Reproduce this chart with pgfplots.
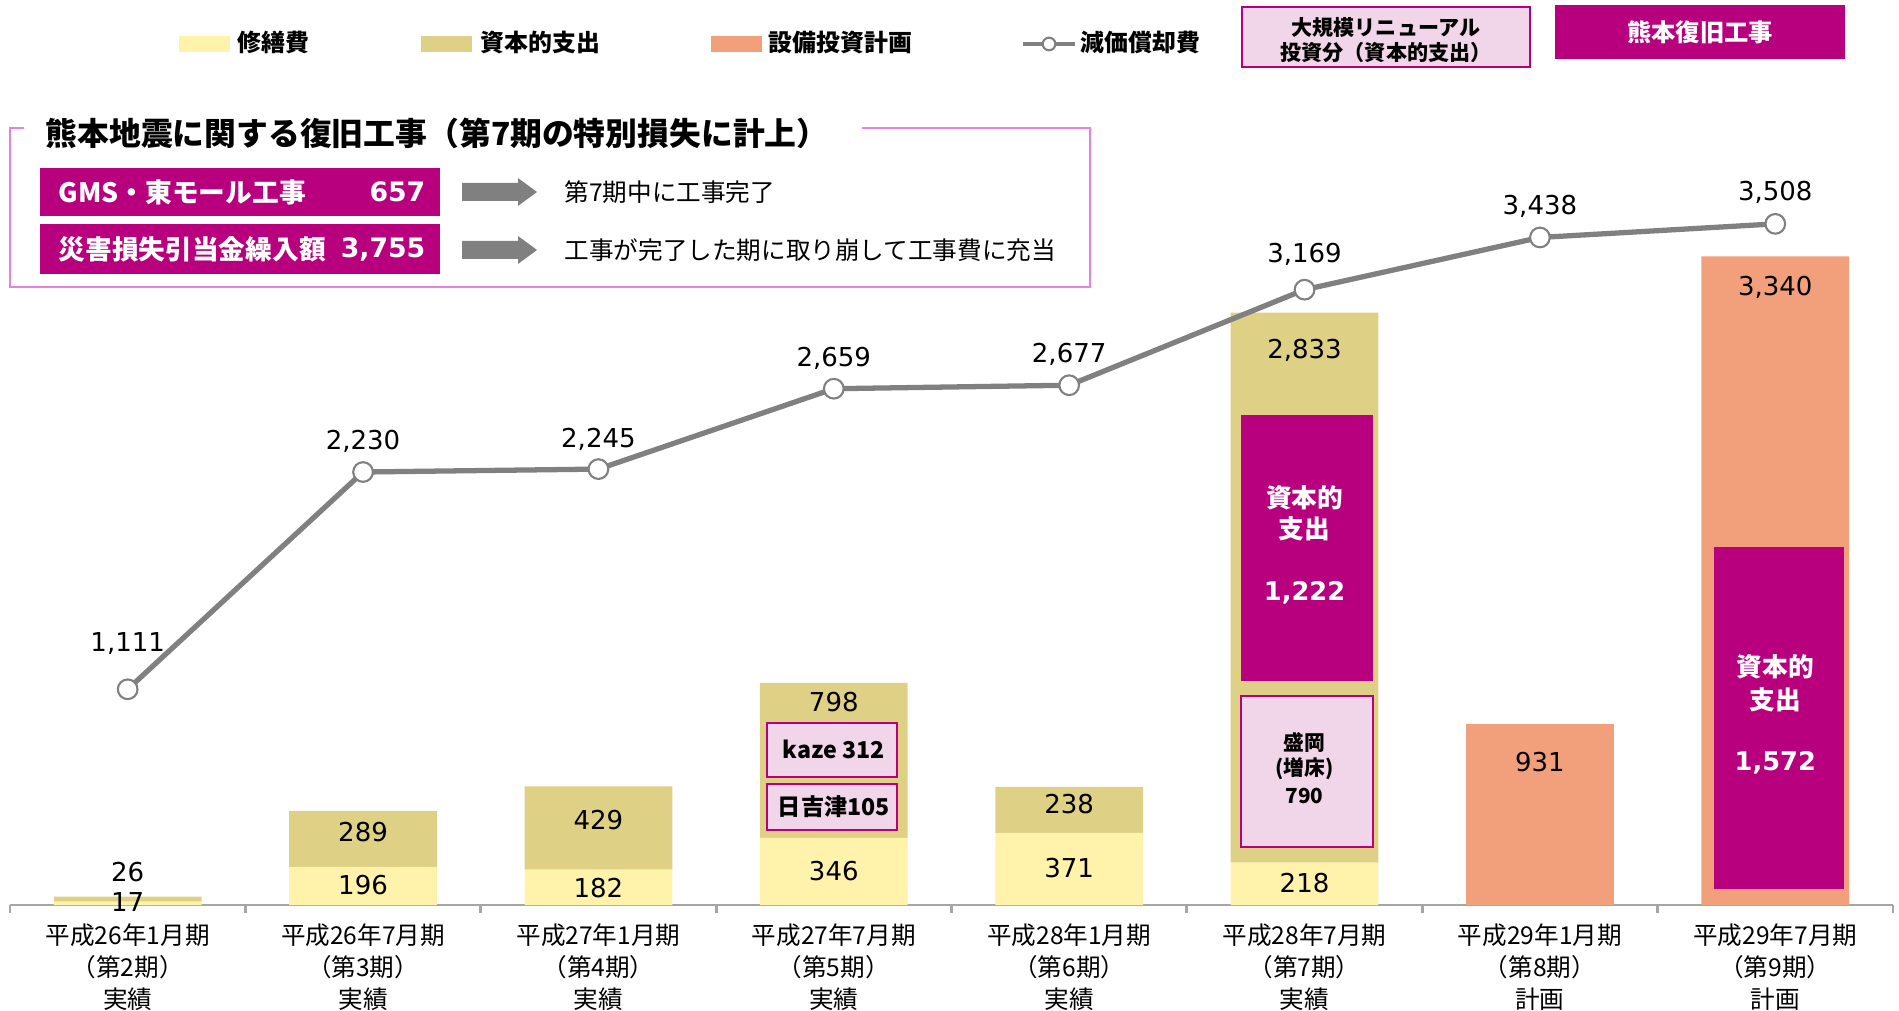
\documentclass[border=0pt]{standalone}
\usepackage{pgfplots}
\pgfplotsset{compat=1.18}
\usepackage{pgfplotstable}
\usepackage{fontspec}
\setmainfont{Noto Sans CJK JP}
\newfontfamily\numfont{DejaVu Sans}
\definecolor{cYellow}{RGB}{255,242,170}
\definecolor{cKhaki}{RGB}{222,208,133}
\definecolor{cSalmon}{RGB}{242,160,124}
\definecolor{cMag}{RGB}{184,0,126}
\definecolor{cPink}{RGB}{240,214,232}
\definecolor{cLine}{RGB}{128,128,128}
\definecolor{cOrchid}{RGB}{230,130,220}
\definecolor{cAxis}{RGB}{166,166,166}

\pgfplotstableread{
x repair capex plan
0 17 26 0
1 196 289 0
2 182 429 0
3 346 798 0
4 371 238 0
5 218 2833 0
6 0 0 931
7 0 0 3340
}\bars

\pgfplotstableread{
x dep
0 1111
1 2230
2 2245
3 2659
4 2677
5 3169
6 3438
7 3508
}\dep

\pgfplotsset{common/.style={
  at={(0.10cm,1.05cm)}, anchor=south west,
  scale only axis, width=18.83cm, height=9.05cm,
  xmin=-0.5, xmax=7.5, ymin=0, ymax=4661,
  enlargelimits=false, clip=false,
}}

\tikzset{num/.style={font=\numfont\fontsize{7.4}{8}\selectfont, inner sep=0pt, anchor=center},
  bnum/.style={font=\numfont\bfseries\fontsize{7.3}{8}\selectfont, inner sep=0pt, anchor=center, text=white}}

\begin{document}
\begin{tikzpicture}[x=1cm,y=1cm]
\useasboundingbox (0,0) rectangle (18.99,10.10);

\begin{axis}[common, ybar stacked, bar width=0.628,
  axis x line*=bottom, axis y line=none,
  x axis line style={cAxis, line width=0.8pt, -},
  xtick={0,...,7}, major tick length=0pt,
  minor xtick={-0.5,0.5,...,7.5}, minor tick length=0.08cm, tick align=outside,
  minor tick style={cAxis, line width=0.8pt},
  xticklabels={{平成26年1月期\\（第2期）\\実績},{平成26年7月期\\（第3期）\\実績},{平成27年1月期\\（第4期）\\実績},{平成27年7月期\\（第5期）\\実績},{平成28年1月期\\（第6期）\\実績},{平成28年7月期\\（第7期）\\実績},{平成29年1月期\\（第8期）\\計画},{平成29年7月期\\（第9期）\\計画}},
  xticklabel style={font=\fontsize{7}{9.1}\selectfont, align=center, anchor=north, text=black, yshift=-0.06cm},
]
\addplot[fill=cYellow, draw=none] table[x=x, y=repair] {\bars};
\addplot[fill=cKhaki, draw=none] table[x=x, y=capex] {\bars};
\addplot[fill=cSalmon, draw=none] table[x=x, y=plan] {\bars};
\end{axis}

\begin{axis}[common, hide axis]
% inner boxes
\addplot[fill=cPink, draw=cMag, line width=0.6pt] coordinates {(2.716,659) (3.268,659) (3.268,937) (2.716,937)} -- cycle;
\addplot[fill=cPink, draw=cMag, line width=0.6pt] coordinates {(2.716,386) (3.268,386) (3.268,623) (2.716,623)} -- cycle;
\addplot[fill=cMag, draw=none] coordinates {(4.73,1154) (5.29,1154) (5.29,2524) (4.73,2524)} -- cycle;
\addplot[fill=cPink, draw=cMag, line width=0.6pt] coordinates {(4.73,299) (5.29,299) (5.29,1076) (4.73,1076)} -- cycle;
\addplot[fill=cMag, draw=none] coordinates {(6.739,82) (7.291,82) (7.291,1844) (6.739,1844)} -- cycle;
% depreciation line
\addplot[cLine, line width=1.5pt, mark=*, mark size=2.8pt, mark options={fill=white, draw=cLine, line width=0.6pt}] table[x=x, y=dep] {\dep};

% line labels
\node[num, yshift=0.46cm] at (axis cs:0,1111) {1,111};
\node[num, yshift=0.31cm] at (axis cs:1,2230) {2,230};
\node[num, yshift=0.30cm] at (axis cs:2,2245) {2,245};
\node[num, yshift=0.30cm] at (axis cs:3,2659) {2,659};
\node[num, yshift=0.31cm] at (axis cs:4,2677) {2,677};
\node[num, yshift=0.35cm] at (axis cs:5,3169) {3,169};
\node[num, yshift=0.31cm] at (axis cs:6,3438) {3,438};
\node[num, yshift=0.32cm] at (axis cs:7,3508) {3,508};

% bar labels
\node[num] at (axis cs:0,170) {26};
\node[num] at (axis cs:0,15) {17};
\node[num] at (axis cs:1,103) {196};
\node[num] at (axis cs:1,376) {289};
\node[num] at (axis cs:2,88) {182};
\node[num] at (axis cs:2,438) {429};
\node[num] at (axis cs:3,175) {346};
\node[num] at (axis cs:3,1045) {798};
\node[num] at (axis cs:4,191) {371};
\node[num] at (axis cs:4,520) {238};
\node[num] at (axis cs:5,113) {218};
\node[num] at (axis cs:5,2858) {2,833};
\node[num] at (axis cs:6,736) {931};
\node[num] at (axis cs:7,3183) {3,340};

% inner box labels
\node[font=\bfseries\fontsize{6.6}{7}\selectfont, inner sep=0pt] at (axis cs:3,801) {kaze 312};
\node[font=\bfseries\fontsize{6.6}{7}\selectfont, inner sep=0pt] at (axis cs:3,505) {日吉津105};
\node[font=\bfseries\fontsize{7.3}{8}\selectfont, text=white, inner sep=0pt] at (axis cs:5,2096) {資本的};
\node[font=\bfseries\fontsize{7.3}{8}\selectfont, text=white, inner sep=0pt] at (axis cs:5,1936) {支出};
\node[bnum] at (axis cs:5,1607) {1,222};
\node[font=\bfseries\fontsize{5.9}{7}\selectfont, inner sep=0pt] at (axis cs:5,839) {盛岡};
\node[font=\bfseries\fontsize{5.9}{7}\selectfont, inner sep=0pt] at (axis cs:5,700) {(増床)};
\node[font=\bfseries\fontsize{5.9}{7}\selectfont, inner sep=0pt] at (axis cs:5,561) {790};
\node[font=\bfseries\fontsize{7.3}{8}\selectfont, text=white, inner sep=0pt] at (axis cs:7,1226) {資本的};
\node[font=\bfseries\fontsize{7.3}{8}\selectfont, text=white, inner sep=0pt] at (axis cs:7,1056) {支出};
\node[bnum] at (axis cs:7,731) {1,572};
\end{axis}

% legend
\fill[cYellow] (1.79,9.58) rectangle (2.30,9.74);
\node[anchor=west, inner sep=0pt, font=\bfseries\fontsize{6.8}{8}\selectfont] at (2.37,9.68) {修繕費};
\fill[cKhaki] (4.21,9.58) rectangle (4.72,9.74);
\node[anchor=west, inner sep=0pt, font=\bfseries\fontsize{6.8}{8}\selectfont] at (4.80,9.68) {資本的支出};
\fill[cSalmon] (7.11,9.58) rectangle (7.62,9.74);
\node[anchor=west, inner sep=0pt, font=\bfseries\fontsize{6.8}{8}\selectfont] at (7.68,9.68) {設備投資計画};
\draw[cLine, line width=1.4pt] (10.23,9.66) -- (10.75,9.66);
\filldraw[fill=white, draw=cLine, line width=0.6pt] (10.49,9.66) circle (1.8pt);
\node[anchor=west, inner sep=0pt, font=\bfseries\fontsize{6.8}{8}\selectfont] at (10.80,9.68) {減価償却費};
\filldraw[fill=cPink, draw=cMag, line width=0.6pt] (12.42,9.43) rectangle (15.30,10.03);
\node[inner sep=0pt, font=\bfseries\fontsize{6}{7}\selectfont] at (13.86,9.82) {大規模リニューアル};
\node[inner sep=0pt, font=\bfseries\fontsize{6}{7}\selectfont] at (13.86,9.58) {投資分（資本的支出）};
\fill[cMag] (15.55,9.51) rectangle (18.45,10.05);
\node[inner sep=0pt, text=white, font=\bfseries\fontsize{6.9}{8}\selectfont] at (17.00,9.78) {熊本復旧工事};

% annotation panel
\draw[cOrchid, line width=0.6pt] (0.24,8.82) -- (0.10,8.82) -- (0.10,7.23) -- (10.90,7.23) -- (10.90,8.82) -- (8.62,8.82);
\node[anchor=west, inner sep=0pt, font=\bfseries\fontsize{9.05}{10}\selectfont] at (0.45,8.77) {熊本地震に関する復旧工事（第7期の特別損失に計上）};
\fill[cMag] (0.40,7.94) rectangle (4.40,8.42);
\fill[cMag] (0.40,7.36) rectangle (4.40,7.86);
\node[anchor=west, inner sep=0pt, text=white, font=\bfseries\fontsize{7.6}{8}\selectfont] at (0.58,8.18) {GMS・東モール工事};
\node[anchor=east, inner sep=0pt, text=white, font=\numfont\bfseries\fontsize{7.6}{8}\selectfont] at (4.26,8.18) {657};
\node[anchor=west, inner sep=0pt, text=white, font=\bfseries\fontsize{7.6}{8}\selectfont] at (0.58,7.61) {災害損失引当金繰入額};
\node[anchor=east, inner sep=0pt, text=white, font=\numfont\bfseries\fontsize{7.6}{8}\selectfont] at (4.26,7.61) {3,755};
\fill[cLine] (4.62,8.09) -- (5.18,8.09) -- (5.18,8.04) -- (5.37,8.18) -- (5.18,8.32) -- (5.18,8.27) -- (4.62,8.27) -- cycle;
\fill[cLine] (4.62,7.51) -- (5.18,7.51) -- (5.18,7.46) -- (5.37,7.60) -- (5.18,7.74) -- (5.18,7.69) -- (4.62,7.69) -- cycle;
\node[anchor=west, inner sep=0pt, font=\fontsize{7}{8}\selectfont] at (5.64,8.18) {第7期中に工事完了};
\node[anchor=west, inner sep=0pt, font=\fontsize{7}{8}\selectfont] at (5.64,7.60) {工事が完了した期に取り崩して工事費に充当};
\end{tikzpicture}
\end{document}
